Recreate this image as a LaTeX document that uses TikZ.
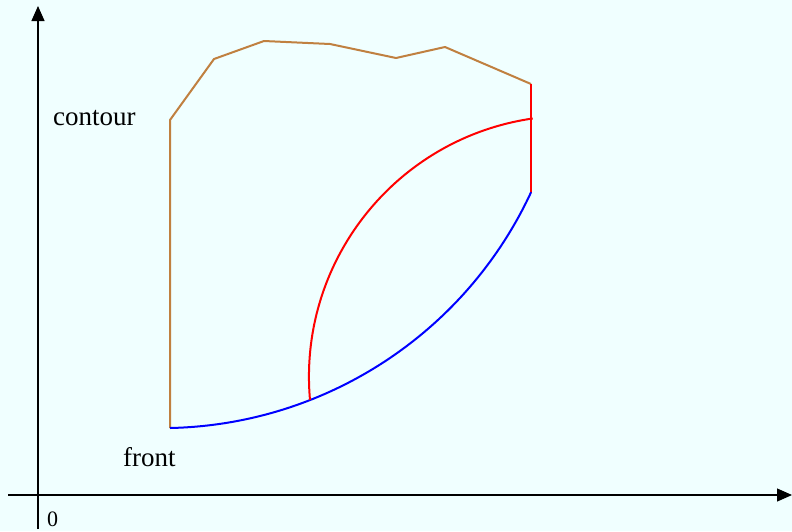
\documentclass[tikz,border=0pt]{standalone}
\usepackage{fontspec}
\setmainfont{Liberation Serif}
\usetikzlibrary{arrows.meta}
\definecolor{bgcol}{RGB}{240,255,255}
\definecolor{contourcol}{RGB}{192,128,64}
\begin{document}
\begin{tikzpicture}[x=1pt,y=-1pt,
  axis/.style={line width=1.3pt,-{Triangle[length=15pt,width=13pt]}},
  curve/.style={line width=2pt},
  lbl/.style={inner sep=0pt,anchor=base west,font=\fontsize{27}{30}\selectfont},
  lblsmall/.style={inner sep=0pt,anchor=base west,font=\fontsize{22}{26}\selectfont}]
\fill[bgcol] (0,0) rectangle (792,531);
\useasboundingbox (0,0) rectangle (792,531);
% axes
\coordinate (yb) at (38,529);
\coordinate (yt) at (38,6);
\coordinate (xl) at (8,495);
\coordinate (xr) at (792,495);
\draw[axis] (yb) -- (yt);
\draw[axis] (xl) -- (xr);
% contour polygon
\coordinate (c0) at (170,428);
\coordinate (c1) at (170,120);
\coordinate (c2) at (214,59);
\coordinate (c3) at (264,41);
\coordinate (c4) at (330,44);
\coordinate (c5) at (396,58);
\coordinate (c6) at (445,47);
\coordinate (c7) at (531,84);
\draw[curve,contourcol,line join=round] (c0) -- (c1) -- (c2) -- (c3) -- (c4) -- (c5) -- (c6) -- (c7);
% red vertical
\coordinate (r1) at (531,192.6);
\draw[curve,red] (c7) -- (r1);
% blue front arc
\draw[curve,blue] (c0) arc[start angle=88.8, end angle=24.9, radius=407.5];
% red arc
\coordinate (m) at (310,400);
\draw[curve,red] (m) arc[start angle=174.9, end angle=261.8, radius=261];
% labels
\node[lbl] (contour) at (53,125) {contour};
\node[lbl] (front) at (123,466) {front};
\node[lblsmall] (zero) at (47,526.5) {0};
\end{tikzpicture}
\end{document}
